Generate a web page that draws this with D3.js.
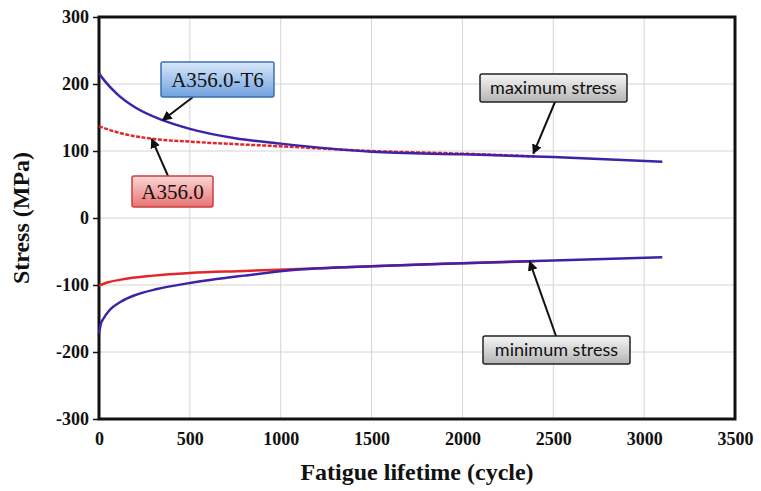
<!DOCTYPE html>
<html>
<head>
<meta charset="utf-8">
<script src="https://cdn.jsdelivr.net/npm/d3@7"></script>
<style>
  html, body { margin: 0; padding: 0; background: #fff; }
  svg { display: block; }
  .serif { font-family: "Liberation Serif", "Times New Roman", serif; font-weight: bold; }
</style>
</head>
<body>
<svg id="chart" width="761" height="491"></svg>
<script>
// Stress envelopes vs fatigue lifetime
const xTicks = [0, 500, 1000, 1500, 2000, 2500, 3000, 3500];
const yTicks = [-300, -200, -100, 0, 100, 200, 300];

// A356.0-T6, maximum stress
const t6MaxCycles = [0, 30, 100, 200, 350, 500, 750, 1000, 1500, 2000, 2500, 3100];
const t6MaxStress = [216, 205, 185, 165, 146, 133, 119, 111, 99, 95, 91, 84];
// A356.0, maximum stress
const asMaxCycles = [0, 100, 300, 500, 1000, 1500, 2000, 2400];
const asMaxStress = [137, 128, 118, 114, 107, 100, 96, 92];
// A356.0-T6, minimum stress
const t6MinCycles = [0, 10, 25, 60, 120, 200, 320, 500, 800, 1100, 1500, 2000, 2500, 3100];
const t6MinStress = [-172, -158, -150, -137, -125, -115, -106, -97, -86, -77, -72, -67.5, -63.5, -58.5];
// A356.0, minimum stress
const asMinCycles = [0, 50, 120, 300, 500, 800, 1100, 1500, 2000, 2400];
const asMinStress = [-101, -96, -92, -86, -82, -79, -76, -72, -67.5, -64.5];

const svg = d3.select("#chart");
const plotL = 99, plotR = 735, plotT = 17, plotB = 419;

const x = d3.scaleLinear().domain([0, 3500]).range([plotL, plotR]);
const y = d3.scaleLinear().domain([-300, 300]).range([plotB, plotT]);

const defs = svg.append("defs");
function grad(id, c1, c2) {
  const g = defs.append("linearGradient").attr("id", id)
    .attr("x1", 0).attr("y1", 0).attr("x2", 0).attr("y2", 1);
  g.append("stop").attr("offset", "0%").attr("stop-color", c1);
  g.append("stop").attr("offset", "100%").attr("stop-color", c2);
}
grad("gBlue", "#d9e8fa", "#6fa1de");
grad("gRed", "#fbd6d6", "#ea7373");
grad("gGray", "#f6f6f6", "#b4b4b4");

defs.append("marker").attr("id", "arrow")
  .attr("viewBox", "0 0 10 10").attr("refX", 9).attr("refY", 5)
  .attr("markerWidth", 5).attr("markerHeight", 5).attr("orient", "auto")
  .append("path").attr("d", "M0,0 L10,5 L0,10 Z").attr("fill", "#111");

// grid
svg.append("g").selectAll("line").data(xTicks.slice(1, -1)).join("line")
  .attr("x1", d => x(d)).attr("x2", d => x(d)).attr("y1", plotT).attr("y2", plotB)
  .attr("stroke", "#d4d4d4").attr("stroke-width", 1);
svg.append("g").selectAll("line").data(yTicks.slice(1, -1)).join("line")
  .attr("x1", plotL).attr("x2", plotR).attr("y1", d => y(d)).attr("y2", d => y(d))
  .attr("stroke", "#d4d4d4").attr("stroke-width", 1);

// axes
const fmt = d => String(d);
const yAxis = d3.axisLeft(y).tickValues(yTicks).tickFormat(fmt).tickSize(6).tickPadding(4);
const gy = svg.append("g").attr("transform", `translate(${plotL},0)`).call(yAxis);
gy.select(".domain").remove();
gy.selectAll("line").attr("stroke", "#111").attr("stroke-width", 1.5);
gy.attr("font-family", null).attr("font-size", null);
gy.selectAll("text").attr("class", "serif").style("font-size", "18px").attr("fill", "#111");

const xAxis = d3.axisBottom(x).tickValues(xTicks).tickFormat(fmt).tickSize(0).tickPadding(13);
const gx = svg.append("g").attr("transform", `translate(0,${plotB})`).call(xAxis);
gx.select(".domain").remove();
gx.attr("font-family", null).attr("font-size", null);
gx.selectAll("text").attr("class", "serif").style("font-size", "18px").attr("fill", "#111");

// frame
svg.append("rect").attr("x", plotL).attr("y", plotT)
  .attr("width", plotR - plotL).attr("height", plotB - plotT)
  .attr("fill", "none").attr("stroke", "#111").attr("stroke-width", 3);

// curves
const line = d3.line().x(d => x(d[0])).y(d => y(d[1])).curve(d3.curveMonotoneX);
const zip = (a, b) => a.map((v, i) => [v, b[i]]);
const series = [
  { pts: zip(asMaxCycles, asMaxStress), color: "#e3262a", dash: "4,1.5" },
  { pts: zip(asMinCycles, asMinStress), color: "#e3262a", dash: null },
  { pts: zip(t6MaxCycles, t6MaxStress), color: "#3f22a6", dash: null },
  { pts: zip(t6MinCycles, t6MinStress), color: "#3f22a6", dash: null }
];
svg.append("g").selectAll("path").data(series).join("path")
  .attr("d", d => line(d.pts)).attr("fill", "none")
  .attr("stroke", d => d.color).attr("stroke-width", 2.5)
  .attr("stroke-dasharray", d => d.dash);

// axis titles
svg.append("text").attr("x", (plotL + plotR) / 2).attr("y", 480)
  .attr("text-anchor", "middle").attr("class", "serif").style("font-size", "24px")
  .attr("fill", "#111").text("Fatigue lifetime (cycle)");
svg.append("text").attr("transform", `translate(29,${y(0)}) rotate(-90)`)
  .attr("text-anchor", "middle").attr("class", "serif").style("font-size", "24px")
  .attr("fill", "#111").text("Stress (MPa)");

// callouts: box geometry in pixels, arrow target in data space
const callouts = [
  { text: "A356.0-T6", bx: 161, by: 62, bw: 113, bh: 35, fill: "url(#gBlue)", stroke: "#3d6fb0",
    font: "'Liberation Serif', serif", size: 21, from: [193, 97], to: [350, 146] },
  { text: "A356.0", bx: 132, by: 176, bw: 81, bh: 31, fill: "url(#gRed)", stroke: "#c84040",
    font: "'Liberation Serif', serif", size: 21, from: [168, 176], to: [290, 118] },
  { text: "maximum stress", bx: 480, by: 74, bw: 147, bh: 28, fill: "url(#gGray)", stroke: "#222",
    font: "Lato, sans-serif", size: 18, from: [555, 102], to: [2390, 96] },
  { text: "minimum stress", bx: 483, by: 336, bw: 147, bh: 28, fill: "url(#gGray)", stroke: "#222",
    font: "Lato, sans-serif", size: 18, from: [556, 336], to: [2370, -65] }
];
const cg = svg.append("g");
callouts.forEach(c => {
  cg.append("line").attr("x1", c.from[0]).attr("y1", c.from[1])
    .attr("x2", x(c.to[0])).attr("y2", y(c.to[1]))
    .attr("stroke", "#111").attr("stroke-width", 2).attr("marker-end", "url(#arrow)");
  cg.append("rect").attr("x", c.bx).attr("y", c.by).attr("width", c.bw).attr("height", c.bh)
    .attr("fill", c.fill).attr("stroke", c.stroke).attr("stroke-width", 1.5).attr("rx", 2);
  cg.append("text").attr("x", c.bx + c.bw / 2).attr("y", c.by + c.bh / 2 + c.size * 0.35)
    .attr("text-anchor", "middle").style("font-family", c.font).style("font-size", c.size + "px")
    .attr("fill", "#111").text(c.text);
});
</script>
</body>
</html>
